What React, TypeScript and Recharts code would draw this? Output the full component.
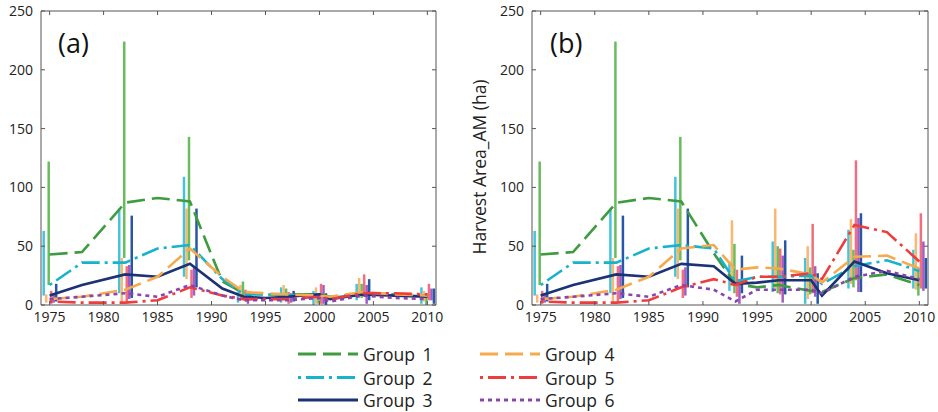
import { ComposedChart, Line, Bar, XAxis, YAxis, Label } from "recharts";

// years where the group means are given
const lineYears = [1975, 1978, 1982, 1985, 1988, 1991, 1993, 1995, 1997, 2000, 2001, 2004, 2007, 2010];
// survey years with a min-max range per group
const barYears = [1975, 1982, 1988, 1993, 1997, 2000, 2004, 2010];
const yearTicks = [1975, 1980, 1985, 1990, 1995, 2000, 2005, 2010];
const areaTicks = [0, 50, 100, 150, 200, 250];
const groupNames = ["Group 1", "Group 2", "Group 3", "Group 4", "Group 5", "Group 6"];

// (a) group means
const g1LineA = [43, 45, 87, 91, 88, 20, 10, 9, 9, 9, 7, 10, 9, 8];
const g2LineA = [17, 36, 36, 48, 51, 22, 9, 9, 8, 9, 6, 9, 9, 7];
const g3LineA = [8, 17, 26, 24, 35, 14, 7, 6, 7, 9, 5, 9, 8, 7];
const g4LineA = [5, 7, 13, 24, 48, 24, 11, 10, 9, 8, 7, 11, 9, 8];
const g5LineA = [3, 2, 2, 4, 15, 8, 5, 5, 5, 7, 5, 10, 10, 9];
const g6LineA = [5, 7, 10, 7, 17, 8, 4, 4, 4, 6, 3, 8, 6, 5];

// (b) group means
const g1LineB = [43, 45, 87, 91, 88, 44, 18, 15, 17, 12, 11, 23, 26, 17];
const g2LineB = [17, 36, 36, 48, 51, 48, 20, 24, 24, 25, 18, 33, 38, 29];
const g3LineB = [8, 17, 26, 24, 35, 33, 18, 19, 21, 21, 8, 37, 27, 21];
const g4LineB = [5, 7, 13, 24, 48, 51, 30, 32, 31, 26, 19, 41, 42, 31];
const g5LineB = [3, 2, 2, 4, 15, 22, 17, 24, 24, 27, 22, 68, 62, 37];
const g6LineB = [5, 7, 10, 7, 17, 13, 3, 13, 13, 13, 10, 24, 29, 22];

// (a) ranges [low, high] per survey year
const g1BarsA = [[17, 122], [40, 224], [38, 143], [4, 20], [4, 14], [1, 9], [6, 18], [0, 10]];
const g2BarsA = [[8, 63], [10, 82], [24, 109], [2, 11], [2, 15], [0, 12], [4, 18], [1, 15]];
const g3BarsA = [[3, 18], [6, 76], [15, 82], [4, 11], [3, 12], [0, 10], [4, 22], [1, 14]];
const g4BarsA = [[2, 9], [1, 40], [22, 82], [4, 17], [4, 17], [1, 15], [10, 23], [3, 12]];
const g5BarsA = [[1, 12], [2, 33], [6, 30], [3, 13], [1, 11], [1, 18], [7, 26], [4, 18]];
const g6BarsA = [[2, 10], [5, 34], [8, 32], [1, 12], [2, 10], [1, 17], [1, 17], [4, 14]];

// (b) ranges [low, high] per survey year
const g1BarsB = [[17, 122], [40, 224], [38, 143], [10, 52], [10, 50], [9, 32], [15, 47], [8, 32]];
const g2BarsB = [[8, 63], [10, 82], [24, 109], [12, 37], [11, 54], [1, 40], [14, 64], [14, 47]];
const g3BarsB = [[3, 18], [6, 76], [15, 82], [10, 42], [9, 55], [1, 27], [11, 78], [14, 40]];
const g4BarsB = [[2, 9], [1, 40], [22, 82], [16, 72], [14, 82], [5, 50], [18, 73], [13, 61]];
const g5BarsB = [[1, 12], [2, 33], [6, 30], [7, 30], [9, 48], [10, 69], [21, 123], [14, 78]];
const g6BarsB = [[2, 10], [5, 34], [8, 32], [1, 22], [2, 42], [7, 33], [11, 74], [12, 54]];

const STYLES = [
  { key: "g1", line: "#3f9b3f", bar: "#67bd5c", dash: "18 7" },
  { key: "g2", line: "#17b2cc", bar: "#44c4dc", dash: "3 5 18 5" },
  { key: "g3", line: "#1b3275", bar: "#2a56a6", dash: undefined },
  { key: "g4", line: "#f7a94e", bar: "#f8b772", dash: "18 7" },
  { key: "g5", line: "#ef3d3d", bar: "#f06e7e", dash: "3 5 18 5" },
  { key: "g6", line: "#8a45ad", bar: "#a45dc0", dash: "4 4" },
];
// left-to-right order of the range bars inside a survey year
const BAR_ORDER = [1, 3, 0, 4, 5, 2];

const X_DOMAIN = [1974.2, 2010.8];
const AXIS = "#555";
const FONT = "'Open Sans', sans-serif";

type PanelProps = {
  left: number;
  width: number;
  axisWidth: number;
  rightGap: number;
  lines: number[][];
  bars: number[][][];
  yLabel?: string;
};

function Panel({ left, width, axisWidth, rightGap, lines, bars, yLabel }: PanelProps) {
  const lineData = lineYears.map((year, i) => {
    const row: Record<string, number> = { year };
    lines.forEach((s, g) => (row[STYLES[g].key] = s[i]));
    return row;
  });
  const barData = barYears.map((year, i) => {
    const row: Record<string, any> = { year };
    bars.forEach((s, g) => (row[STYLES[g].key] = s[i]));
    return row;
  });

  return (
    <div style={{ position: "absolute", left, top: 0 }}>
      <ComposedChart
        width={width}
        height={335}
        data={barData}
        barGap={0}
        margin={{ top: 10, right: rightGap, bottom: 0, left: 0 }}
      >
        <XAxis
          xAxisId="yr"
          dataKey="year"
          type="number"
          domain={X_DOMAIN}
          allowDataOverflow
          ticks={yearTicks}
          interval={0}
          tickSize={-4}
          tickMargin={11}
          height={30}
          stroke={AXIS}
          tick={{ fill: "#222", fontSize: 14, fontFamily: FONT }}
        />
        <XAxis
          xAxisId="bars"
          orientation="top"
          dataKey="year"
          type="number"
          domain={X_DOMAIN}
          allowDataOverflow
          ticks={yearTicks}
          interval={0}
          tickSize={-4}
          tickFormatter={() => ""}
          height={1}
          stroke={AXIS}
        />
        <YAxis
          yAxisId="l"
          type="number"
          domain={[0, 250]}
          allowDataOverflow
          ticks={areaTicks}
          interval={0}
          tickSize={-4}
          tickMargin={12}
          width={axisWidth}
          stroke={AXIS}
          tick={{ fill: "#222", fontSize: 14, fontFamily: FONT }}
        >
          {yLabel && (
            <Label
              content={({ viewBox }: any) => {
                const cx = viewBox.x + viewBox.width - 46;
                const cy = viewBox.y + viewBox.height / 2 + 9;
                return (
                  <text
                    x={cx}
                    y={cy}
                    transform={`rotate(-90, ${cx}, ${cy})`}
                    textAnchor="middle"
                    fontSize={17.5}
                    fontFamily={FONT}
                    fill="#222"
                  >
                    {yLabel}
                  </text>
                );
              }}
            />
          )}
        </YAxis>
        <YAxis
          yAxisId="r"
          orientation="right"
          type="number"
          domain={[0, 250]}
          allowDataOverflow
          ticks={areaTicks}
          interval={0}
          tickSize={-4}
          tickFormatter={() => ""}
          width={4}
          stroke={AXIS}
        />
        {STYLES.map((s) => (
          <Line
            key={s.key}
            xAxisId="yr"
            yAxisId="l"
            data={lineData}
            dataKey={s.key}
            stroke={s.line}
            strokeWidth={2.6}
            strokeDasharray={s.dash}
            dot={false}
            activeDot={false}
            isAnimationActive={false}
          />
        ))}
        {BAR_ORDER.map((g) => (
          <Bar
            key={STYLES[g].key}
            xAxisId="bars"
            yAxisId="r"
            dataKey={STYLES[g].key}
            fill={STYLES[g].bar}
            barSize={2.5}
            isAnimationActive={false}
          />
        ))}
      </ComposedChart>
    </div>
  );
}

function Overlay() {
  const rows = [354, 377.5, 400];
  const cols = [298, 480];
  return (
    <svg
      width={938}
      height={412}
      style={{ position: "absolute", left: 0, top: 0, pointerEvents: "none" }}
      fontFamily={FONT}
    >
      <text x={58} y={53} fontSize={27} fill="#111">(a)</text>
      <text x={550} y={53} fontSize={27} fill="#111">(b)</text>
      {STYLES.map((s, g) => {
        const x = cols[Math.floor(g / 3)];
        const y = rows[g % 3];
        return (
          <g key={s.key}>
            <line
              x1={x}
              x2={x + 60}
              y1={y}
              y2={y}
              stroke={s.line}
              strokeWidth={3}
              strokeDasharray={s.dash}
            />
            <text
              x={x + 65}
              y={y}
              dominantBaseline="central"
              fontSize={17.5}
              wordSpacing={3}
              fill="#222"
            >
              {groupNames[g]}
            </text>
          </g>
        );
      })}
    </svg>
  );
}

export default function App() {
  return (
    <div
      style={{
        position: "absolute",
        left: 0,
        top: 0,
        width: 938,
        height: 412,
        background: "#fff",
        fontFamily: FONT,
      }}
    >
      <Panel
        left={0}
        width={452}
        axisWidth={41}
        rightGap={12}
        lines={[g1LineA, g2LineA, g3LineA, g4LineA, g5LineA, g6LineA]}
        bars={[g1BarsA, g2BarsA, g3BarsA, g4BarsA, g5BarsA, g6BarsA]}
      />
      <Panel
        left={460}
        width={478}
        axisWidth={72}
        rightGap={6}
        lines={[g1LineB, g2LineB, g3LineB, g4LineB, g5LineB, g6LineB]}
        bars={[g1BarsB, g2BarsB, g3BarsB, g4BarsB, g5BarsB, g6BarsB]}
        yLabel="Harvest Area_AM (ha)"
      />
      <Overlay />
    </div>
  );
}
